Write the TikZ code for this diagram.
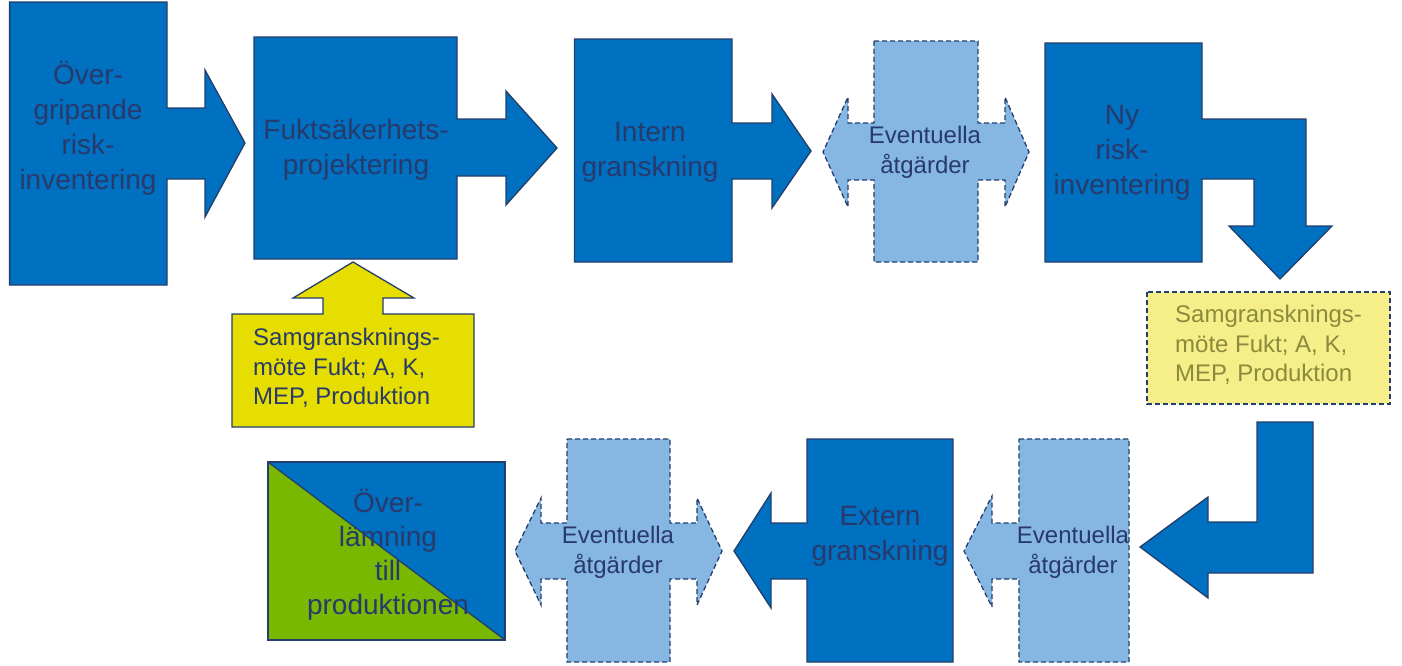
\documentclass[tikz,border=0pt]{standalone}
\usepackage{fontspec}
\setmainfont{Liberation Sans}
\definecolor{mblue}{RGB}{0,112,192}
\definecolor{navy}{RGB}{36,62,108}
\definecolor{tcol}{RGB}{40,58,108}
\definecolor{lblue}{RGB}{133,183,226}
\definecolor{myellow}{RGB}{230,222,0}
\definecolor{pyellow}{RGB}{246,238,136}
\definecolor{olive}{RGB}{140,138,60}
\definecolor{mgreen}{RGB}{120,184,0}
\tikzset{
  darkshape/.style={fill=mblue, draw=navy, line width=1.3pt, line join=miter},
  lightshape/.style={fill=lblue, draw=navy, line width=1.3pt, dash pattern=on 5pt off 3pt},
  yshape/.style={fill=myellow, draw=navy, line width=1.3pt},
  pyshape/.style={fill=pyellow, draw=navy, line width=1.3pt, dash pattern=on 5pt off 3pt},
  bigtxt/.style={text=tcol, font=\fontsize{28}{35}\selectfont, align=center, inner sep=0pt},
  smalltxt/.style={text=tcol, font=\fontsize{24}{30}\selectfont, align=center, inner sep=0pt},
  yeltxt/.style={text=tcol, font=\fontsize{24}{29.5}\selectfont, align=left, inner sep=0pt, anchor=west},
}
\begin{document}
\begin{tikzpicture}[x=1pt,y=-1pt]
\useasboundingbox (0,0) rectangle (1402,665);
% top row
\draw[darkshape] (9.6,2) -- (167,2) -- (167,108) -- (205,108) -- (205,70) -- (245,143) -- (205,217) -- (205,179) -- (167,179) -- (167,285) -- (9.6,285) -- cycle;
\node[bigtxt] (t1) at (88,128) {Över-\\gripande\\risk-\\inventering};

\draw[darkshape] (254,37) -- (457,37) -- (457,119) -- (506,119) -- (506,91) -- (557,148) -- (506,205) -- (506,176) -- (457,176) -- (457,259) -- (254,259) -- cycle;
\node[bigtxt] (t2) at (356,150) {Fuktsäkerhets-\\projektering};

\draw[yshape] (232,314) -- (323,314) -- (323,298) -- (293,298) -- (353,262) -- (414,298) -- (383,298) -- (383,314) -- (474,314) -- (474,427) -- (232,427) -- cycle;
\node[yeltxt] (y1) at (253,368) {Samgransknings-\\möte Fukt; A, K,\\MEP, Produktion};

\draw[darkshape] (574.5,39) -- (732,39) -- (732,123) -- (772,123) -- (772,94) -- (811,151) -- (772,208) -- (772,179) -- (732,179) -- (732,262) -- (574.5,262) -- cycle;
\node[bigtxt] (t3) at (650,152) {Intern\\granskning};

\draw[lightshape] (874,41) -- (978,41) -- (978,123) -- (1005,123) -- (1005,97) -- (1029,152) -- (1005,207) -- (1005,180) -- (978,180) -- (978,262) -- (874,262) -- (874,180) -- (848,180) -- (848,207) -- (823,152) -- (848,97) -- (848,123) -- (874,123) -- cycle;
\node[smalltxt] (t4) at (925,152) {Eventuella\\åtgärder};

\draw[darkshape] (1045,43) -- (1202,43) -- (1202,119) -- (1306,119) -- (1306,226) -- (1332,226) -- (1280,279) -- (1229,226) -- (1254,226) -- (1254,179) -- (1202,179) -- (1202,262) -- (1045,262) -- cycle;
\node[bigtxt] (t5) at (1122,153) {Ny\\risk-\\inventering};

% right column
\draw[pyshape] (1147,292) rectangle (1390,404);
\node[yeltxt, text=olive] (y2) at (1175,345) {Samgransknings-\\möte Fukt; A, K,\\MEP, Produktion};

\draw[darkshape] (1257,422) -- (1313,422) -- (1313,573) -- (1208,573) -- (1208,598) -- (1140,547) -- (1208,497) -- (1208,522) -- (1257,522) -- cycle;

% bottom row
\draw[lightshape] (1019,439) -- (1129,439) -- (1129,662) -- (1019,662) -- (1019,579) -- (992,579) -- (992,607) -- (964,551) -- (992,496) -- (992,523) -- (1019,523) -- cycle;
\node[smalltxt] (t6) at (1073,552) {Eventuella\\åtgärder};

\draw[darkshape] (807,439) -- (953,439) -- (953,662) -- (807,662) -- (807,579) -- (771,579) -- (771,608) -- (734,551) -- (771,493) -- (771,523) -- (807,523) -- cycle;
\node[bigtxt] (t7) at (880,536) {Extern\\granskning};

\draw[lightshape] (567,439) -- (670,439) -- (670,523) -- (697,523) -- (697,498) -- (722,551) -- (697,605) -- (697,579) -- (670,579) -- (670,662) -- (567,662) -- (567,579) -- (541,579) -- (541,605) -- (515,551) -- (541,498) -- (541,523) -- (567,523) -- cycle;
\node[smalltxt] (t8) at (618,552) {Eventuella\\åtgärder};

\fill[mblue] (268,462) rectangle (505,640);
\fill[mgreen] (268,462) -- (505,640) -- (268,640) -- cycle;
\draw[navy, line width=1.3pt] (268,462) -- (505,640);
\draw[navy, line width=1.3pt] (268,462) rectangle (505,640);
\node[bigtxt, font=\fontsize{28}{34}\selectfont] (t9) at (388,555) {Över-\\lämning\\till\\produktionen};
\end{tikzpicture}
\end{document}
